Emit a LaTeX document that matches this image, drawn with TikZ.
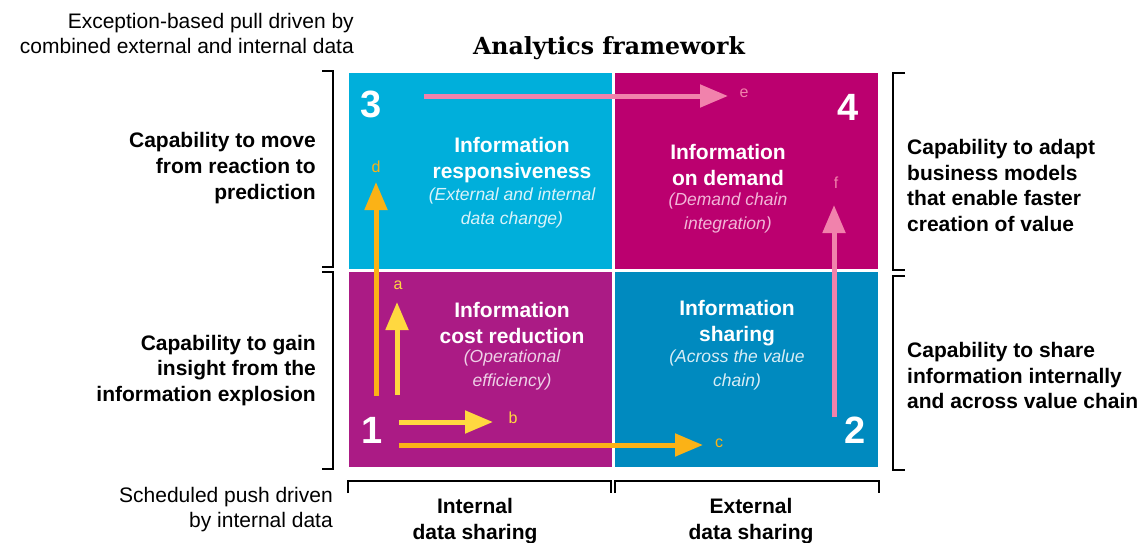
\documentclass[tikz,border=0pt]{standalone}
\usepackage{fontspec}
\setmainfont{Liberation Sans}
\newfontfamily\slabfont{DejaVu Serif}
\usetikzlibrary{arrows.meta}

\definecolor{qcyan}{RGB}{0,175,219}
\definecolor{qmagenta}{RGB}{187,0,111}
\definecolor{qpurple}{RGB}{171,27,133}
\definecolor{qblue}{RGB}{0,138,191}
\definecolor{apink}{RGB}{241,130,172}
\definecolor{aorange}{RGB}{251,178,22}
\definecolor{ayellow}{RGB}{255,216,64}

\tikzset{
  quad/.style={minimum width=263pt, minimum height=196pt, inner sep=0pt, outer sep=0pt},
  qhead/.style={text=white, font=\bfseries\fontsize{21}{26}\selectfont, align=center},
  qsub/.style={font=\itshape\fontsize{17.5}{24}\selectfont, align=center},
  side/.style={font=\bfseries\fontsize{21}{25.8}\selectfont, inner sep=0pt},
  note/.style={font=\fontsize{21}{25}\selectfont, align=right, anchor=east, inner sep=0pt},
  num/.style={text=white, font=\bfseries\fontsize{38}{38}\selectfont},
  tag/.style={font=\fontsize{16}{16}\selectfont},
  flow/.style={line width=5pt, -{Triangle[length=28pt,width=22pt]}},
  brk/.style={line width=2pt},
}

\begin{document}
\begin{tikzpicture}[x=1pt,y=-1pt]
\useasboundingbox (0,0) rectangle (1143,543);

\node[quad, fill=qcyan] (q3) at (480.5,171) {};
\node[quad, fill=qmagenta] (q4) at (746.5,171) {};
\node[quad, fill=qpurple, minimum height=195pt] (q1) at (480.5,369.5) {};
\node[quad, fill=qblue, minimum height=195pt] (q2) at (746.5,369.5) {};

\node[num] (n3) at (371,104) {3};
\node[num] (n4) at (848,107) {4};
\node[num] (n1) at (372,430) {1};
\node[num] (n2) at (855,430) {2};

\node[qhead] (h3) at (512,160.5) {Information\\responsiveness};
\node[qsub, text=white!85!qcyan] (s3) at (512,208) {(External and internal\\data change)};
\node[qhead] (h4) at (728,164.5) {Information\\on demand};
\node[qsub, text={rgb,255:red,242;green,182;blue,216}] (s4) at (728,213) {(Demand chain\\integration)};
\node[qhead] (h1) at (512,323) {Information\\cost reduction};
\node[qsub, text=white!80!qpurple] (s1) at (512,370) {(Operational\\efficiency)};
\node[qhead] (h2) at (737,323) {Information\\sharing};
\node[qsub, text=white!85!qblue] (s2) at (737,370) {(Across the value\\chain)};

% arrows a--f
\coordinate (d0) at (376,396); \coordinate (d1) at (376,182);
\draw[flow, aorange] (d0) -- (d1);
\node[tag, text=aorange] (d) at (376,167) {d};
\coordinate (a0) at (397,395); \coordinate (a1) at (397,302);
\draw[flow, ayellow] (a0) -- (a1);
\node[tag, text=ayellow] (a) at (398,285) {a};
\coordinate (b0) at (399,422); \coordinate (b1) at (493,422);
\draw[flow, ayellow] (b0) -- (b1);
\node[tag, text=ayellow] (b) at (513,418) {b};
\coordinate (c0) at (399,445); \coordinate (c1) at (703,445);
\draw[flow, aorange] (c0) -- (c1);
\node[tag, text=aorange] (c) at (719,443) {c};
\coordinate (e0) at (424,96); \coordinate (e1) at (728,96);
\draw[flow, apink] (e0) -- (e1);
\node[tag, text=apink] (e) at (744,93) {e};
\coordinate (f0) at (834,417); \coordinate (f1) at (834,205);
\draw[flow, apink] (f0) -- (f1);
\node[tag, text=apink] (f) at (836,183) {f};

\draw[brk] (322,71) -- (333,71) -- (333,267) -- (322,267);
\draw[brk] (322,272) -- (333,272) -- (333,469) -- (322,469);
\draw[brk] (905,73) -- (893,73) -- (893,270) -- (905,270);
\draw[brk] (905,276) -- (893,276) -- (893,470) -- (905,470);
\draw[brk] (348,493) -- (348,481) -- (611,481) -- (611,493);
\draw[brk] (615,493) -- (615,481) -- (879,481) -- (879,493);

\node[side, align=right, anchor=east] (l3) at (316,168) {Capability to move\\from reaction to\\prediction};
\node[side, align=right, anchor=east] (l1) at (316,370.5) {Capability to gain\\insight from the\\information explosion};
\node[side, align=left, anchor=west] (r4) at (907,185.5) {Capability to adapt\\business models\\that enable faster\\creation of value};
\node[side, align=left, anchor=west] (r2) at (907,375.5) {Capability to share\\information internally\\and across value chain};

\node[side, align=center] (xint) at (475,521.5) {Internal\\data sharing};
\node[side, align=center] (xext) at (751,521.5) {External\\data sharing};

\node[note] (pull) at (354,33.5) {Exception-based pull driven by\\combined external and internal data};
\node[note] (push) at (333,509.5) {Scheduled push driven\\by internal data};

\node[font=\slabfont\bfseries\fontsize{23.6}{23.6}\selectfont] (title) at (609,48) {Analytics framework};
\end{tikzpicture}
\end{document}
